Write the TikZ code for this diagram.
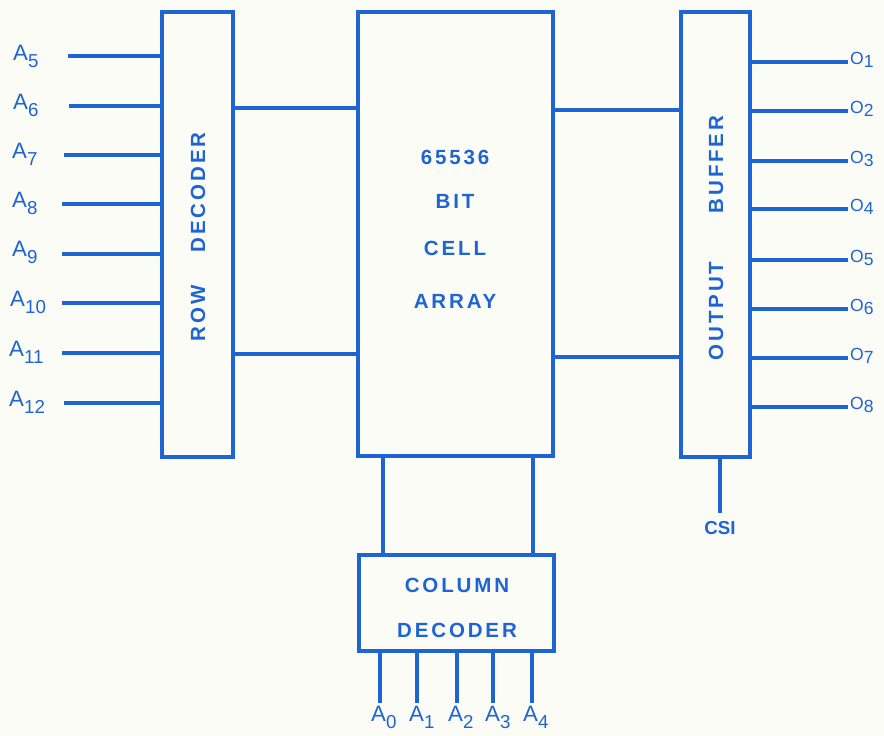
\documentclass[tikz,border=0pt]{standalone}
\usepackage{fontspec}
\setmainfont{Liberation Sans}
\newfontfamily\boxfont{Liberation Sans}[LetterSpace=14]
\usepackage{tikz}
\usetikzlibrary{
  calc,        % 坐标计算
  positioning  % 节点相对定位
}
\definecolor{ink}{RGB}{30,100,210}
\definecolor{paper}{RGB}{252,252,247}
% 引脚名：字母后接下沉的数字
\newcommand{\Apin}[1]{A\raisebox{-6pt}{\fontsize{16}{16}\selectfont #1}}
\newcommand{\Opin}[1]{O\raisebox{-3pt}{#1}}
\tikzset{
  block/.style={draw=ink, line width=3.2pt, inner sep=0pt},
  wire/.style={draw=ink, line width=3.2pt},
  boxtext/.style={text=ink, font=\boxfont\bfseries\fontsize{17.5}{17.5}\selectfont},
  pinlabel/.style={text=ink, inner sep=0pt, font=\fontsize{19}{19}\selectfont},
  outlabel/.style={text=ink, inner sep=0pt, font=\fontsize{15}{15}\selectfont}
}

\begin{document}
\begin{tikzpicture}[x=0.03cm, y=-0.03cm]
  % === 背景与边界 ===
  \fill[paper] (0,0) rectangle (884,736);
  \useasboundingbox (0,0) rectangle (884,736);

  % === 四个方框 ===
  \node[block, minimum width=2.13cm, minimum height=13.35cm] (rowdec) at (197.5,234.5) {};
  \node[block, minimum width=5.85cm, minimum height=13.32cm] (cells) at (455.5,234) {};
  \node[block, minimum width=2.07cm, minimum height=13.35cm] (outbuf) at (715.5,234.5) {};
  \node[block, minimum width=5.85cm, minimum height=2.88cm] (coldec) at (456.5,603) {};

  % 方框内文字
  \node[boxtext, rotate=90] (rowtxt) at (198,237) {ROW\hspace{1.0cm}DECODER};
  \node[boxtext, rotate=90] (buftxt) at (716,238) {OUTPUT\hspace{1.45cm}BUFFER};
  \node[boxtext] (t1) at (455,157) {65536};
  \node[boxtext] (t2) at (455,201) {BIT};
  \node[boxtext] (t3) at (455,248) {CELL};
  \node[boxtext] (t4) at (455,301) {ARRAY};
  \node[boxtext] (t5) at (457,585) {COLUMN};
  \node[boxtext] (t6) at (457,630) {DECODER};

  % === 行地址输入 A5--A12 ===
  \coordinate (a5) at (68,56);
  \coordinate (a6) at (69,106);
  \coordinate (a7) at (64,155);
  \coordinate (a8) at (62,204);
  \coordinate (a9) at (62,254);
  \coordinate (a10) at (62,303);
  \coordinate (a11) at (62,353);
  \coordinate (a12) at (64,403);
  \draw[wire] (a5) -- (a5 -| rowdec.west);
  \draw[wire] (a6) -- (a6 -| rowdec.west);
  \draw[wire] (a7) -- (a7 -| rowdec.west);
  \draw[wire] (a8) -- (a8 -| rowdec.west);
  \draw[wire] (a9) -- (a9 -| rowdec.west);
  \draw[wire] (a10) -- (a10 -| rowdec.west);
  \draw[wire] (a11) -- (a11 -| rowdec.west);
  \draw[wire] (a12) -- (a12 -| rowdec.west);
  \node[pinlabel, anchor=west] (la5) at (13,56) {\Apin{5}};
  \node[pinlabel, anchor=west] (la6) at (13,105) {\Apin{6}};
  \node[pinlabel, anchor=west] (la7) at (12,154) {\Apin{7}};
  \node[pinlabel, anchor=west] (la8) at (12,203) {\Apin{8}};
  \node[pinlabel, anchor=west] (la9) at (12,252) {\Apin{9}};
  \node[pinlabel, anchor=west] (la10) at (10,302) {\Apin{10}};
  \node[pinlabel, anchor=west] (la11) at (9,352) {\Apin{11}};
  \node[pinlabel, anchor=west] (la12) at (9,402) {\Apin{12}};

  % === 行译码器 -- 存储阵列 -- 输出缓冲 ===
  \coordinate (r1) at (233,108);
  \coordinate (r2) at (233,354);
  \draw[wire] (r1) -- (r1 -| cells.west);
  \draw[wire] (r2) -- (r2 -| cells.west);
  \coordinate (c1) at (553,110);
  \coordinate (c2) at (553,357);
  \draw[wire] (c1) -- (c1 -| outbuf.west);
  \draw[wire] (c2) -- (c2 -| outbuf.west);

  % === 输出 O1--O8 ===
  \coordinate (o1) at (848,62);
  \coordinate (o2) at (848,111);
  \coordinate (o3) at (848,161);
  \coordinate (o4) at (848,209);
  \coordinate (o5) at (848,260);
  \coordinate (o6) at (848,309);
  \coordinate (o7) at (848,358);
  \coordinate (o8) at (848,407);
  \draw[wire] (o1 -| outbuf.east) -- (o1);
  \draw[wire] (o2 -| outbuf.east) -- (o2);
  \draw[wire] (o3 -| outbuf.east) -- (o3);
  \draw[wire] (o4 -| outbuf.east) -- (o4);
  \draw[wire] (o5 -| outbuf.east) -- (o5);
  \draw[wire] (o6 -| outbuf.east) -- (o6);
  \draw[wire] (o7 -| outbuf.east) -- (o7);
  \draw[wire] (o8 -| outbuf.east) -- (o8);
  \node[outlabel, anchor=west] (lo1) at (850,60) {\Opin{1}};
  \node[outlabel, anchor=west] (lo2) at (850,109) {\Opin{2}};
  \node[outlabel, anchor=west] (lo3) at (850,159) {\Opin{3}};
  \node[outlabel, anchor=west] (lo4) at (850,207) {\Opin{4}};
  \node[outlabel, anchor=west] (lo5) at (850,258) {\Opin{5}};
  \node[outlabel, anchor=west] (lo6) at (850,307) {\Opin{6}};
  \node[outlabel, anchor=west] (lo7) at (850,356) {\Opin{7}};
  \node[outlabel, anchor=west] (lo8) at (850,405) {\Opin{8}};

  % === 片选 CSI ===
  \node[text=ink, font=\bfseries\fontsize{16}{16}\selectfont] (csi) at (720,528) {CSI};
  \draw[wire] (csi.north |- outbuf.south) -- ++(0,54);

  % === 存储阵列 -- 列译码器 ===
  \coordinate (k1) at (383,456);
  \coordinate (k2) at (533,456);
  \draw[wire] (k1) -- (k1 |- coldec.north);
  \draw[wire] (k2) -- (k2 |- coldec.north);

  % === 列地址输入 A0--A4 ===
  \coordinate (b0) at (380,703);
  \coordinate (b1) at (417,703);
  \coordinate (b2) at (457,703);
  \coordinate (b3) at (493,703);
  \coordinate (b4) at (532,703);
  \draw[wire] (b0 |- coldec.south) -- (b0);
  \draw[wire] (b1 |- coldec.south) -- (b1);
  \draw[wire] (b2 |- coldec.south) -- (b2);
  \draw[wire] (b3 |- coldec.south) -- (b3);
  \draw[wire] (b4 |- coldec.south) -- (b4);
  \node[pinlabel, anchor=west] (lb0) at (371,717) {\Apin{0}};
  \node[pinlabel, anchor=west] (lb1) at (409,717) {\Apin{1}};
  \node[pinlabel, anchor=west] (lb2) at (448,717) {\Apin{2}};
  \node[pinlabel, anchor=west] (lb3) at (485,717) {\Apin{3}};
  \node[pinlabel, anchor=west] (lb4) at (523,717) {\Apin{4}};
\end{tikzpicture}
\end{document}
